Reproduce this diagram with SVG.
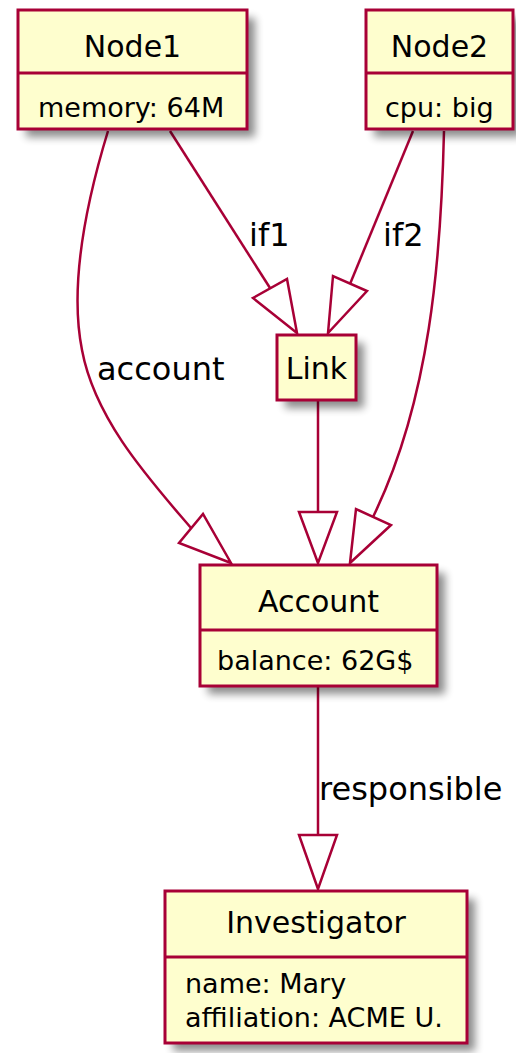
<svg xmlns="http://www.w3.org/2000/svg" width="516" height="1053" viewBox="0 0 516 1053">
<style>
.box{fill:#FEFECE;stroke:#A80036;stroke-width:3}
.div{stroke:#A80036;stroke-width:3}
.edge{fill:none;stroke:#A80036;stroke-width:2.5}
.head{fill:#FFFFFF;stroke:#A80036;stroke-width:2.5;stroke-linejoin:miter}
.title{font-family:"DejaVu Sans",sans-serif;font-size:30px;fill:#000;text-anchor:middle}
.attr{font-family:"DejaVu Sans",sans-serif;font-size:27px;fill:#000}
.lbl{font-family:"DejaVu Sans",sans-serif;font-size:32px;fill:#000}
.shadow{fill:#000;opacity:0.45;filter:url(#blur)}
</style>
<defs>
<filter id="blur" x="-20%" y="-20%" width="140%" height="140%"><feGaussianBlur stdDeviation="4"/></filter>
</defs>
<g id="connectors">
<path class="edge" d="M108,131 C90,190 68,280 82,350 C95,420 150,480 191,528"/>
<polygon class="head" points="231,563 179,543 203,514"/>
<path class="edge" d="M170,131 L270,288"/>
<polygon class="head" points="297,333 253,298 287,279"/>
<path class="edge" d="M413,131 L350,284"/>
<polygon class="head" points="328,333 333,276 367,291"/>
<path class="edge" d="M444,131 C441,260 430,400 373,517"/>
<polygon class="head" points="350,563 356,509 391,525"/>
<path class="edge" d="M318,400 L318,512"/>
<polygon class="head" points="318,563 299,512 337,512"/>
<path class="edge" d="M318,686 L318,835"/>
<polygon class="head" points="318,889 299,835 337,835"/>
<text class="lbl" x="97" y="380">account</text>
<text class="lbl" x="249" y="246">if1</text>
<text class="lbl" x="383" y="246">if2</text>
<text class="lbl" x="319" y="800">responsible</text>
</g>
<g id="node1">
<rect class="shadow" x="26" y="18" width="229" height="119"/>
<rect class="box" x="18" y="10" width="229" height="119"/>
<line class="div" x1="18" y1="73" x2="247" y2="73"/>
<text class="title" x="132.5" y="57">Node1</text>
<text class="attr" x="38" y="117">memory: 64M</text>
</g>
<g id="node2">
<rect class="shadow" x="374" y="18" width="147" height="119"/>
<rect class="box" x="366" y="10" width="147" height="119"/>
<line class="div" x1="366" y1="73" x2="513" y2="73"/>
<text class="title" x="439.5" y="57">Node2</text>
<text class="attr" x="385" y="117">cpu: big</text>
</g>
<g id="link">
<rect class="shadow" x="285" y="343" width="79" height="65"/>
<rect class="box" x="277" y="335" width="79" height="65"/>
<text class="title" x="316.5" y="379">Link</text>
</g>
<g id="account">
<rect class="shadow" x="208" y="573" width="237" height="121"/>
<rect class="box" x="200" y="565" width="237" height="121"/>
<line class="div" x1="200" y1="630" x2="437" y2="630"/>
<text class="title" x="318.5" y="612">Account</text>
<text class="attr" x="217" y="670">balance: 62G$</text>
</g>
<g id="investigator">
<rect class="shadow" x="173" y="899" width="302" height="152"/>
<rect class="box" x="165" y="891" width="302" height="152"/>
<line class="div" x1="165" y1="957" x2="467" y2="957"/>
<text class="title" x="316" y="933">Investigator</text>
<text class="attr" x="185" y="993">name: Mary</text>
<text class="attr" x="185" y="1027">affiliation: ACME U.</text>
</g>
</svg>
